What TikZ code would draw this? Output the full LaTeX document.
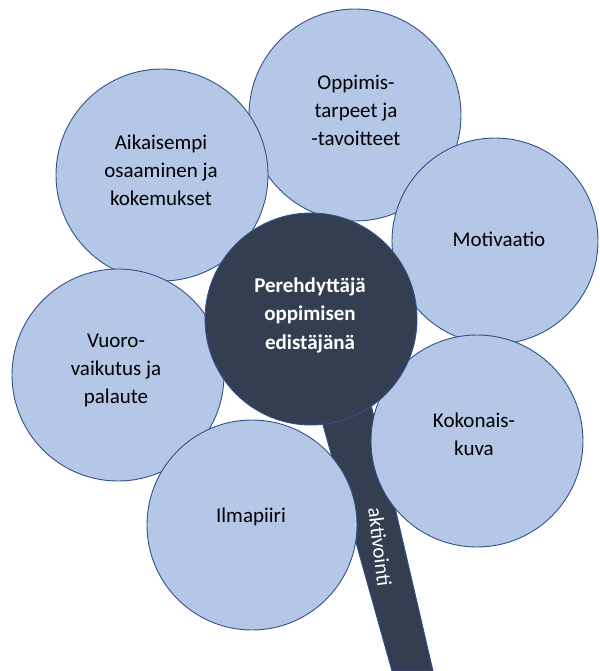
\documentclass[tikz,border=0pt]{standalone}
\usepackage{fontspec}
\setmainfont{Carlito}
\definecolor{petalblue}{HTML}{B4C7E7}
\definecolor{edgeblue}{HTML}{2F528F}
\definecolor{darkcore}{HTML}{333F50}
\begin{document}
\begin{tikzpicture}[x=1pt,y=-1pt,
  petal/.style={circle, draw=edgeblue, fill=petalblue, line width=0.9pt, inner sep=0pt, minimum size=#1},
  core/.style={circle, draw=edgeblue, fill=darkcore, line width=0.9pt, inner sep=0pt, minimum size=#1},
  ptext/.style={align=center, font=\fontsize{21}{28}\selectfont, text=black, inner sep=0pt},
  ctext/.style={align=center, font=\fontsize{21}{28.5}\selectfont\bfseries, text=white, inner sep=0pt},
  stemtext/.style={font=\fontsize{21}{25}\selectfont, text=white, inner sep=0pt}]
\useasboundingbox (0,0) rectangle (599,671);
% stem
\coordinate (s1) at (316,400);
\coordinate (s2) at (370,400);
\coordinate (s3) at (433,671);
\coordinate (s4) at (392,671);
\path[fill=darkcore, draw=edgeblue, line width=0.9pt] (s1) -- (s2) -- (s3) -- (s4) -- cycle;
% petals
\node[petal=212pt] (opp) at (355,115) {};
\node[petal=212pt] (aik) at (162,175) {};
\node[petal=206pt] (mot) at (495,241) {};
\node[petal=212pt] (kok) at (477,441) {};
\node[petal=212pt] (vuo) at (118,375) {};
\node[petal=210pt] (ilm) at (252,525) {};
% core
\node[core=212pt] (cen) at (311,319) {};
% texts
\node[ptext] (oppt) at (356,110) {Oppimis-\\tarpeet ja\\-tavoitteet};
\node[ptext] (aikt) at (161,170) {Aikaisempi\\osaaminen ja\\kokemukset};
\node[ptext] (mott) at (499,239) {Motivaatio};
\node[ptext] (kokt) at (474,434) {Kokonais-\\kuva};
\node[ptext] (vuot) at (116,370) {Vuoro-\\vaikutus ja\\palaute};
\node[ptext] (ilmt) at (251,517) {Ilmapiiri};
\node[ctext] (cent) at (310,315) {Perehdyttäjä\\oppimisen\\edistäjänä};
\node[stemtext, rotate=-83] (stt) at (380,547) {aktivointi};
\end{tikzpicture}
\end{document}
